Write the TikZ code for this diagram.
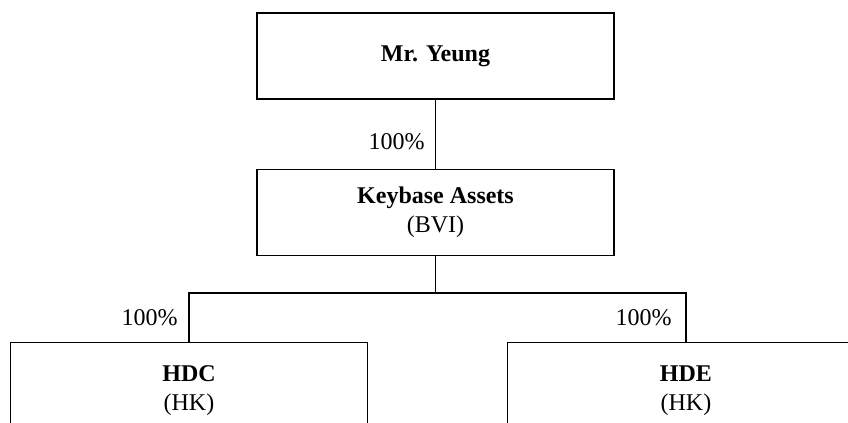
\documentclass[tikz,border=0pt]{standalone}
\usepackage{fontspec}
\setmainfont{Liberation Serif}
\usetikzlibrary{positioning}

\tikzset{
    orgbox/.style={draw, line width=0.6pt, minimum width=178.5pt, minimum height=43pt,
        inner sep=0pt, align=center, font=\fontsize{12}{14.5}\selectfont},
    subbox/.style={orgbox, minimum height=48.5pt, anchor=north},
    pct/.style={font=\fontsize{12}{14.5}\selectfont, inner sep=0pt, anchor=east}
}

\begin{document}
\begin{tikzpicture}[x=1pt,y=1pt]
    \useasboundingbox (0,0) rectangle (424,-211.5);
    \clip (0,0) rectangle (424,-211.5);
    % owner and holding company
    \node[orgbox] (yeung) at (217.75,-28) {\textbf{Mr. Yeung}};
    \node[orgbox, below=34.5pt of yeung] (keybase) {\textbf{Keybase Assets}\\(BVI)};
    % subsidiaries
    \node[subbox] (hdc) at (94.5,-171) {\textbf{HDC}\\(HK)};
    \node[subbox] (hde) at (343,-171) {\textbf{HDE}\\(HK)};
    \coordinate (split) at (keybase.south |- 0,-146.5);
    % connectors
    \draw[line width=0.6pt] (yeung) -- (keybase);
    \draw[line width=0.6pt] (keybase.south) -- (split);
    \draw[line width=0.6pt] (hdc.north) |- (split) -| (hde.north);
    % shares
    \node[pct] (ownyeung) at (212.5,-71) {100\%};
    \node[pct] (ownhdc) at (89,-159) {100\%};
    \node[pct] (ownhde) at (336,-159) {100\%};
\end{tikzpicture}
\end{document}
